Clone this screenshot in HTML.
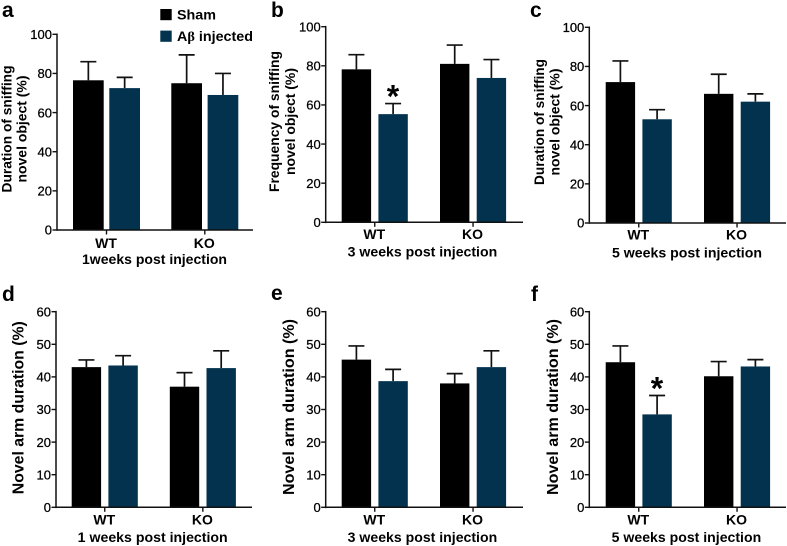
<!DOCTYPE html>
<html>
<head>
<meta charset="utf-8">
<style>
html,body{margin:0;padding:0;background:#fff;}
svg{display:block;font-family:"Liberation Sans",sans-serif;}
</style>
</head>
<body>
<svg id="figure" width="787" height="546" viewBox="0 0 787 546" xmlns="http://www.w3.org/2000/svg">
  <g>
    <rect x="160.3" y="9" width="11.4" height="11.2" fill="#000"/>
    <text x="177" y="19.4" font-size="14" font-weight="bold" textLength="39" lengthAdjust="spacingAndGlyphs">Sham</text>
    <rect x="160.3" y="30.6" width="11.4" height="11.2" fill="#03324f"/>
    <text x="177" y="41.2" font-size="14" font-weight="bold" textLength="76" lengthAdjust="spacingAndGlyphs">A<tspan font-family="'Liberation Serif',serif">β</tspan> injected</text>
  </g>
</svg>
<script>
const categories = ['WT', 'KO'];
const seriesNames = ['sham', 'injected'];
const objectTicks = [0, 20, 40, 60, 80, 100];
const armTicks = [0, 10, 20, 30, 40, 50, 60];

const meansA = [[76.5, 75], [72.5, 69]];
const errorTopsA = [[86, 89.5], [78, 80]];
const meansB = [[78.2, 81], [55.3, 73.8]];
const errorTopsB = [[85.7, 90.6], [60.7, 83.2]];
const meansC = [[72, 66], [53, 62]];
const errorTopsC = [[82.8, 76], [57.9, 66]];
const meansD = [[43, 37], [43.5, 42.7]];
const errorTopsD = [[45.2, 41.3], [46.5, 48]];
const meansE = [[45.3, 38], [38.7, 43]];
const errorTopsE = [[49.5, 41], [42.3, 48]];
const meansF = [[44.5, 40.2], [28.5, 43.2]];
const errorTopsF = [[49.5, 44.7], [34.3, 45.3]];

const svgNS = 'http://www.w3.org/2000/svg';
const figure = document.getElementById('figure');
const seriesFill = ['#000000', '#03324f'];

function make(parent, tag, attrs, content) {
  const el = document.createElementNS(svgNS, tag);
  for (const k in attrs) el.setAttribute(k, attrs[k]);
  if (content !== undefined) el.textContent = content;
  parent.appendChild(el);
  return el;
}

function drawPanel(p) {
  const group = make(figure, 'g', {});
  
  

  const maxTick = p.ticks[p.ticks.length - 1];
  const yScale = v => p.y0 - (v / maxTick) * (p.y0 - p.yTop);
  const barX = (c, s) => p.firstBar + c * p.groupStep + s * (p.barW + p.barGap);

  const letter = make(group, 'text', {x: p.letterX, y: p.letterY, 'font-size': 21, 'font-weight': 'bold'}, p.letter);
  
  

  p.means.forEach((vals, s) => {
    vals.forEach((v, c) => {
      const x = barX(c, s);
      const cx = x + p.barW / 2;
      const stem = make(group, 'line', {x1: cx, x2: cx, y1: yScale(v), y2: yScale(p.errorTops[s][c]), stroke: '#111', 'stroke-width': 1.7});
      
      
      const cap = make(group, 'line', {x1: cx - 8, x2: cx + 8, y1: yScale(p.errorTops[s][c]), y2: yScale(p.errorTops[s][c]), stroke: '#111', 'stroke-width': 1.7});
      
      
      const bar = make(group, 'rect', {x: x, y: yScale(v), width: p.barW, height: p.y0 - yScale(v), fill: seriesFill[s]});
      
      
    });
  });

  const yAxis = make(group, 'line', {x1: p.axisX, x2: p.axisX, y1: p.yTop - 0.8, y2: p.y0 + 0.8, stroke: '#111', 'stroke-width': 1.5});
  
  
  const xAxis = make(group, 'line', {x1: p.axisX, x2: p.axisEnd, y1: p.y0, y2: p.y0, stroke: '#111', 'stroke-width': 1.5});
  
  

  p.ticks.forEach(t => {
    const tick = make(group, 'line', {x1: p.axisX - 4.5, x2: p.axisX, y1: yScale(t), y2: yScale(t), stroke: '#111', 'stroke-width': 1.4});
    
    
    const label = make(group, 'text', {x: p.axisX - 5, y: yScale(t) + 4.7, 'font-size': 13, 'text-anchor': 'end', stroke: '#000', 'stroke-width': 0.25}, String(t));
    
    
  });

  categories.forEach((name, c) => {
    const cx = barX(c, 0) + p.barW + p.barGap / 2;
    const tick = make(group, 'line', {x1: cx, x2: cx, y1: p.y0, y2: p.y0 + 4.5, stroke: '#111', 'stroke-width': 1.4});
    
    
    const label = make(group, 'text', {x: cx - 0.5, y: p.catY, 'font-size': 14, 'font-weight': 'bold', 'text-anchor': 'middle'}, name);
    
    
  });

  const xTitle = make(group, 'text', {x: p.xTitleX, y: p.xTitleY, 'font-size': 14, 'font-weight': 'bold', textLength: p.xTitleLen, lengthAdjust: 'spacingAndGlyphs'}, p.xTitle);
  
  

  p.yTitles.forEach(line => {
    const title = make(group, 'text', {
      transform: 'translate(' + line.x + ',' + p.yTitleCenter + ') rotate(-90)',
      x: -line.len / 2, y: 0, 'font-size': p.yTitleSize, 'font-weight': 'bold',
      textLength: line.len, lengthAdjust: 'spacingAndGlyphs'
    }, line.text);
    
    
  });

  if (p.star) {
    const star = make(group, 'text', {x: p.star.x, y: p.star.y, 'font-size': 32, 'font-weight': 'bold', 'text-anchor': 'middle'}, '*');
    
    
  }
}

drawPanel({letter: 'a', letterX: 2, letterY: 17, means: meansA, errorTops: errorTopsA, ticks: objectTicks,
  axisX: 57, axisEnd: 253, y0: 230, yTop: 34.3, firstBar: 73, barW: 30.7, barGap: 5.6, groupStep: 98.3,
  catY: 248, xTitle: '1weeks post injection', xTitleX: 82, xTitleY: 264, xTitleLen: 145,
  yTitleCenter: 129, yTitleSize: 13.8,
  yTitles: [{x: 11.5, text: 'Duration of sniffing', len: 127}, {x: 26.5, text: 'novel object (%)', len: 107}]});

drawPanel({letter: 'b', letterX: 271, letterY: 17, means: meansB, errorTops: errorTopsB, ticks: objectTicks,
  axisX: 325.7, axisEnd: 523, y0: 222.3, yTop: 26.7, firstBar: 341.7, barW: 29.4, barGap: 7.3, groupStep: 98.3,
  catY: 239, xTitle: '3 weeks post injection', xTitleX: 347.7, xTitleY: 256.7, xTitleLen: 149.5,
  yTitleCenter: 121.5, yTitleSize: 13.8,
  yTitles: [{x: 279, text: 'Frequency of sniffing', len: 141}, {x: 295, text: 'novel object (%)', len: 107}],
  star: {x: 393, y: 107.4}});

drawPanel({letter: 'c', letterX: 530, letterY: 17, means: meansC, errorTops: errorTopsC, ticks: objectTicks,
  axisX: 589.3, axisEnd: 786, y0: 223, yTop: 27.3, firstBar: 605.7, barW: 29.4, barGap: 7.3, groupStep: 98.3,
  catY: 239.5, xTitle: '5 weeks post injection', xTitleX: 612, xTitleY: 257.5, xTitleLen: 150,
  yTitleCenter: 122, yTitleSize: 13.8,
  yTitles: [{x: 544, text: 'Duration of sniffing', len: 126}, {x: 559.5, text: 'novel object (%)', len: 107}]});

drawPanel({letter: 'd', letterX: 2, letterY: 301, means: meansD, errorTops: errorTopsD, ticks: armTicks,
  axisX: 56, axisEnd: 252, y0: 507.3, yTop: 311.7, firstBar: 71.7, barW: 29.4, barGap: 7.3, groupStep: 98.1,
  catY: 524.5, xTitle: '1 weeks post injection', xTitleX: 77.7, xTitleY: 542, xTitleLen: 150,
  yTitleCenter: 407.7, yTitleSize: 16,
  yTitles: [{x: 23.5, text: 'Novel arm duration (%)', len: 173}]});

drawPanel({letter: 'e', letterX: 271, letterY: 300, means: meansE, errorTops: errorTopsE, ticks: armTicks,
  axisX: 325.7, axisEnd: 523, y0: 507.3, yTop: 311.7, firstBar: 341.7, barW: 29.4, barGap: 7.3, groupStep: 98.3,
  catY: 524.5, xTitle: '3 weeks post injection', xTitleX: 347.7, xTitleY: 542, xTitleLen: 149.5,
  yTitleCenter: 407, yTitleSize: 16,
  yTitles: [{x: 294, text: 'Novel arm duration (%)', len: 176}]});

drawPanel({letter: 'f', letterX: 531, letterY: 301, means: meansF, errorTops: errorTopsF, ticks: armTicks,
  axisX: 589.3, axisEnd: 786, y0: 507.3, yTop: 311.7, firstBar: 605.7, barW: 29.4, barGap: 7.3, groupStep: 98.3,
  catY: 524.5, xTitle: '5 weeks post injection', xTitleX: 611.7, xTitleY: 542, xTitleLen: 149.5,
  yTitleCenter: 407, yTitleSize: 16,
  yTitles: [{x: 558, text: 'Novel arm duration (%)', len: 176}],
  star: {x: 657, y: 399.5}});
</script>
</body>
</html>
